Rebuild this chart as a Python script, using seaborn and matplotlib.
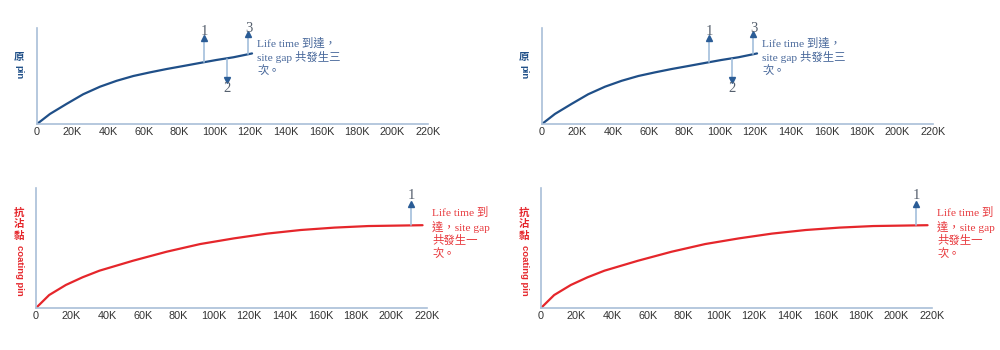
import numpy as np
import pandas as pd
import matplotlib
matplotlib.use("Agg")
import matplotlib.pyplot as plt
import seaborn as sns

# Mileage (K) and relative wear for each pin type
orig_x = [0, 7.3, 16.7, 26, 35.5, 44.8, 54.2, 63.6, 73, 82.3, 91.7, 101, 110.5, 121]
orig_y = [0, 10.5, 21, 31, 38.9, 45, 50, 53.8, 57.3, 60.4, 63.6, 66.7, 69.5, 73.5]
coat_x = [0, 7.4, 16.8, 26.2, 35.7, 54.6, 73.5, 92.4, 111.3, 130, 149, 168, 187, 217.5]
coat_y = [0, 10.8, 19.2, 25.6, 31.1, 39.4, 46.9, 53.3, 58, 62, 65, 67, 68.3, 69]

# site gap events: position (K), arrow start, arrow end, label height, label
orig_evt_x = [94, 107, 119]
orig_evt_from = [64.2, 68.2, 73]
orig_evt_to = [90, 46, 94]
orig_evt_lab_y = [96, 37, 100]
orig_evt_lab = ["1", "2", "3"]
coat_evt_x = [211]
coat_evt_from = [68.8]
coat_evt_to = [87]
coat_evt_lab_y = [94]
coat_evt_lab = ["1"]

tick_vals = [0, 20, 40, 60, 80, 100, 120, 140, 160, 180, 200, 220]
tick_labels = ["0", "20K", "40K", "60K", "80K", "100K", "120K", "140K",
               "160K", "180K", "200K", "220K"]

orig_note = "Life time 到達，\nsite gap 共發生三\n次。"
coat_note = "Life time 到\n達，site gap\n共發生一\n次。"

sns.set_style("white")
plt.rcParams["font.family"] = ["Liberation Sans", "Noto Sans CJK TC"]

BLUE = "#1f4f88"
BLUE_TXT = "#47679a"
RED = "#e5262b"
RED_TXT = "#e8393d"
SPINE = "#a9bfd8"
SHAFT = "#a3bfdb"
HEAD = "#2a5c96"
SERIF = ["Liberation Serif", "Noto Sans CJK TC"]

fig = plt.figure(figsize=(10, 3.5), dpi=100)
W, H = 1000, 350


def add_axes(x0, x1, ytop, ybot):
    return fig.add_axes([x0 / W, 1 - ybot / H, (x1 - x0) / W, (ybot - ytop) / H])


def style(ax):
    ax.set_xlim(0, 220)
    ax.set_ylim(0, 100)
    for s in ["top", "right"]:
        ax.spines[s].set_visible(False)
    for s in ["left", "bottom"]:
        ax.spines[s].set_color(SPINE)
        ax.spines[s].set_linewidth(1.2)
    ax.set_xticks(tick_vals)
    ax.set_xticklabels(tick_labels, fontsize=7.8, color="#333333")
    ax.set_yticks([])
    ax.tick_params(axis="x", length=0, pad=2)
    ax.set_facecolor("none")


def events(ax, xs, y0s, y1s, lys, labs):
    for x, a, b, ly, lab in zip(xs, y0s, y1s, lys, labs):
        ax.plot([x, x], [a, b], color=SHAFT, lw=1.2, clip_on=False, zorder=2)
        ax.plot([x], [b], marker="^" if b > a else "v", color=HEAD,
                ms=4, clip_on=False, zorder=3)
        ax.text(x, ly, lab, ha="center", va="center", fontsize=10.5,
                color="#56606e", family=SERIF, clip_on=False)


def ylabel(offset, cjk, latin, color, y_first, step, latin_top):
    # CJK characters stay upright, stacked; Latin text runs downwards
    for i, ch in enumerate(cjk):
        fig.text((19 + offset) / W, 1 - (y_first + i * step) / H, ch,
                 ha="center", va="center", fontsize=7.5, fontweight="bold",
                 color=color, family=["Noto Sans CJK TC"])
    fig.text((19 + offset) / W, 1 - latin_top / H, latin, ha="center",
             va="top", rotation=270, fontsize=6.8, fontweight="bold",
             color=color, family=["Liberation Sans"])


for off in [0, 505]:
    # original pin
    ax = add_axes(37 + off, 428 + off, 28, 124)
    style(ax)
    df1 = pd.DataFrame({"x": orig_x, "y": orig_y})
    sns.lineplot(data=df1, x="x", y="y", ax=ax, color=BLUE, lw=1.6)
    ax.set_xlabel("")
    ax.set_ylabel("")
    events(ax, orig_evt_x, orig_evt_from, orig_evt_to, orig_evt_lab_y, orig_evt_lab)
    ax.text(124, 90, orig_note, ha="left", va="top", fontsize=8.2,
            color=BLUE_TXT, family=SERIF, linespacing=1.25, clip_on=False)
    ylabel(off, "原", "pin", BLUE, 57, 11.5, 65)

    # anti-stick coating pin
    ax = add_axes(36 + off, 427 + off, 188, 308)
    style(ax)
    df2 = pd.DataFrame({"x": coat_x, "y": coat_y})
    sns.lineplot(data=df2, x="x", y="y", ax=ax, color=RED, lw=1.6)
    ax.set_xlabel("")
    ax.set_ylabel("")
    events(ax, coat_evt_x, coat_evt_from, coat_evt_to, coat_evt_lab_y, coat_evt_lab)
    ax.text(223, 84, coat_note, ha="left", va="top", fontsize=8.2,
            color=RED_TXT, family=SERIF, linespacing=1.25, clip_on=False)
    ylabel(off, "抗沾黏", "coating pin", RED, 213, 11.5, 245)

fig.savefig("out.png", dpi=100)
